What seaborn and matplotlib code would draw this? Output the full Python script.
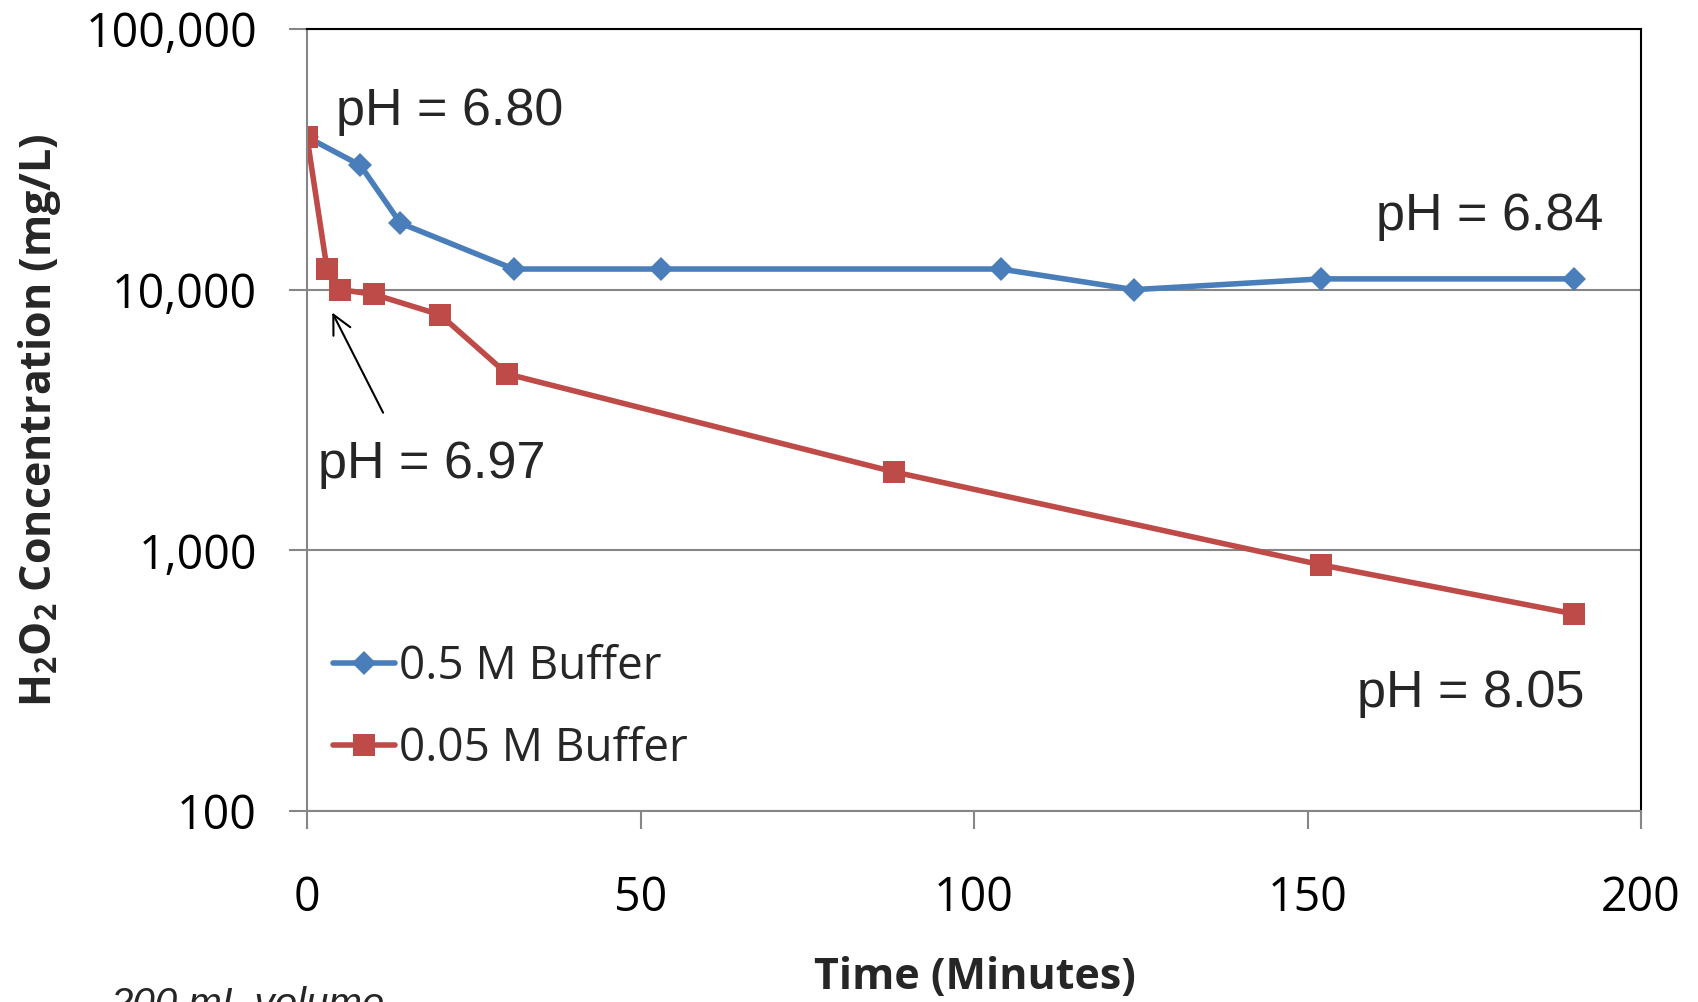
import numpy as np
import pandas as pd
import matplotlib
matplotlib.use('Agg')
import matplotlib.pyplot as plt
from matplotlib.ticker import FuncFormatter, NullLocator, FixedLocator
import seaborn as sns

# Values
time_05 = [0, 8, 14, 31, 53, 104, 124, 152, 190]
conc_05 = [38500, 30000, 18000, 12000, 12000, 12000, 10000, 11000, 11000]
time_005 = [0, 3, 5, 10, 20, 30, 88, 152, 190]
conc_005 = [38500, 12000, 10000, 9600, 8000, 4750, 2000, 880, 570]
series_names = ['0.5 M Buffer', '0.05 M Buffer']
x_ticks = [0, 50, 100, 150, 200]
y_ticks = [100, 1000, 10000, 100000]
ph_labels = ['pH = 6.80', 'pH = 6.84', 'pH = 6.97', 'pH = 8.05']

blue = '#4A7EBB'
red = '#BE4B48'
grey = '#868686'

df = pd.concat([
    pd.DataFrame({'Time': time_05, 'Conc': conc_05, 'Series': series_names[0]}),
    pd.DataFrame({'Time': time_005, 'Conc': conc_005, 'Series': series_names[1]}),
], ignore_index=True)

sns.set_style('white')
plt.rcParams['font.family'] = ['Open Sans', 'DejaVu Sans']
plt.rcParams['mathtext.fontset'] = 'custom'
plt.rcParams['mathtext.rm'] = 'Open Sans'
plt.rcParams['mathtext.bf'] = 'Open Sans:bold'

fig = plt.figure(figsize=(16.98, 10.02), dpi=100)
ax = fig.add_axes([307 / 1698, 1 - 811 / 1002, (1641 - 307) / 1698, (811 - 29) / 1002])

# one call per series so each gets its own marker size
sub = df[df['Series'] == series_names[0]]
sns.lineplot(data=sub, x='Time', y='Conc', color=blue, marker='D', markersize=12,
             markeredgewidth=0, linewidth=4, label=series_names[0], ax=ax)
sub = df[df['Series'] == series_names[1]]
sns.lineplot(data=sub, x='Time', y='Conc', color=red, marker='s', markersize=16,
             markeredgewidth=0, linewidth=4, label=series_names[1], ax=ax)

ax.set_yscale('log')
ax.set_xlim(0, 200)
ax.set_ylim(100, 100000)
ax.xaxis.set_major_locator(FixedLocator(x_ticks))
ax.yaxis.set_major_locator(FixedLocator(y_ticks))
ax.yaxis.set_minor_locator(NullLocator())
ax.yaxis.set_major_formatter(FuncFormatter(lambda v, p: f'{v:,.0f}'))
ax.grid(axis='y', color=grey, linewidth=1.5)
ax.grid(axis='x', visible=False)

for side in ['left', 'bottom']:
    ax.spines[side].set_color(grey)
    ax.spines[side].set_linewidth(1.5)
for side in ['top', 'right']:
    ax.spines[side].set_color('black')
    ax.spines[side].set_linewidth(1.5)

ax.tick_params(axis='both', which='major', direction='out', length=13, width=1.5,
               color=grey, labelsize=33.5, labelcolor='black', bottom=True, left=True)
ax.tick_params(axis='y', pad=23)
ax.tick_params(axis='x', pad=33)
ax.set_xlabel('')
ax.set_ylabel('')

fig.text(975 / 1698, 1 - 978 / 1002, 'Time (Minutes)', ha='center', va='center',
         fontsize=31, fontweight='bold')
fig.text(40 / 1698, 1 - 420 / 1002, r'H$_\mathbf{2}$O$_\mathbf{2}$ Concentration (mg/L)',
         ha='center', va='center', rotation=90, fontsize=31, fontweight='bold')
# footnote is clipped by the bottom edge in the original too
fig.text(110 / 1698, 1 - 986 / 1002, '200 mL volume', ha='left', va='top',
         fontsize=29, style='italic', family=['Liberation Sans'])

# pH annotations
ph_font = dict(fontsize=37.5, family=['Liberation Sans'], va='baseline', ha='left')
ax.text(4.4, 43000, ph_labels[0], **ph_font)
ax.text(160.2, 16900, ph_labels[1], **ph_font)
ax.text(1.6, 1900, ph_labels[2], **ph_font)
ax.text(157.4, 250, ph_labels[3], **ph_font)
ax.annotate('', xy=(3.6, 8350), xytext=(11.6, 3300),
            arrowprops=dict(arrowstyle='->', color='black', lw=1.5, mutation_scale=34))

leg = ax.legend(loc='center left', bbox_to_anchor=(333 / 1698, 1 - 708 / 1002),
                bbox_transform=fig.transFigure, frameon=False, fontsize=33,
                handlelength=1.35, handletextpad=0.1, labelspacing=0.78,
                borderpad=0, borderaxespad=0)

fig.savefig('out.png', dpi=100)
